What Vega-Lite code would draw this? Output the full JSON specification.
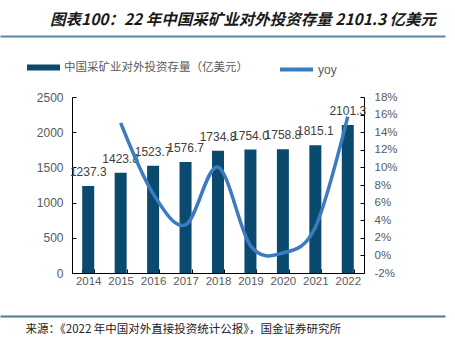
{
  "$schema": "https://vega.github.io/schema/vega-lite/v6.json",
  "background": "white",
  "padding": {"left": 25, "top": 12, "right": 10, "bottom": 5},
  "config": {"view": {"stroke": null}, "font": "Liberation Sans"},
  "width": 292,
  "height": 176,
  "title": {"text": "图表100：22 年中国采矿业对外投资存量 2101.3 亿美元", "anchor": "start", "frame": "bounds", "dx": 25, "font": "Noto Sans CJK SC", "fontSize": 15.5, "fontStyle": "italic", "fontWeight": "bold", "color": "#1a1a1a", "offset": 8},
  "layer": [
    {
      "data": {"values": [
        {"year": "2014", "stock": 1237.3, "yoy": null},
        {"year": "2015", "stock": 1423.8, "yoy": 0.1507},
        {"year": "2016", "stock": 1523.7, "yoy": 0.0702},
        {"year": "2017", "stock": 1576.7, "yoy": 0.0348},
        {"year": "2018", "stock": 1734.8, "yoy": 0.1003},
        {"year": "2019", "stock": 1754.0, "yoy": 0.0111},
        {"year": "2020", "stock": 1758.8, "yoy": 0.0027},
        {"year": "2021", "stock": 1815.1, "yoy": 0.0320},
        {"year": "2022", "stock": 2101.3, "yoy": 0.1577}
      ]},
      "encoding": {
        "x": {
          "field": "year", "type": "ordinal",
          "scale": {"paddingInner": 0.63, "paddingOuter": 0.315},
          "axis": {"title": null, "labelAngle": 0, "tickBand": "extent", "tickSize": -4, "domainColor": "#000", "tickColor": "#000", "labelPadding": 6, "labelFontSize": 11.5, "labelColor": "#595959", "labelFont": "Liberation Sans"}
        }
      },
      "layer": [
        {
          "encoding": {
            "y": {
              "field": "stock", "type": "quantitative",
              "scale": {"domain": [0, 2500]},
              "axis": {"values": [0, 500, 1000, 1500, 2000, 2500], "format": "d", "grid": false, "domainColor": "#000", "tickColor": "#000", "tickSize": -4, "labelPadding": 13, "labelFontSize": 12, "labelColor": "#595959", "labelFont": "Liberation Sans", "title": null}
            }
          },
          "layer": [
            {
              "mark": {"type": "bar", "size": 12},
              "encoding": {
                "fill": {
                  "datum": "中国采矿业对外投资存量（亿美元）", "type": "nominal",
                  "scale": {"range": ["#0b4a6f"]},
                  "legend": {"orient": "none", "legendX": -45, "legendY": -46, "direction": "horizontal", "title": null, "symbolType": "M-1,-0.18L1,-0.18L1,0.18L-1,0.18Z", "symbolSize": 1089, "symbolStrokeWidth": 0, "labelFont": "Noto Sans CJK SC", "labelFontSize": 11.5, "labelLimit": 300, "labelColor": "#595959", "labelOffset": 4}
                }
              }
            },
            {
              "mark": {"type": "text", "baseline": "middle", "dy": -14, "fontSize": 12, "color": "#404040", "font": "Liberation Sans"},
              "encoding": {"text": {"field": "stock", "type": "quantitative", "format": ".1f"}}
            }
          ]
        },
        {
          "transform": [{"filter": "datum.yoy != null"}],
          "mark": {"type": "line", "interpolate": "cardinal", "strokeWidth": 3.5},
          "encoding": {
            "y": {
              "field": "yoy", "type": "quantitative",
              "scale": {"domain": [-0.02, 0.18]},
              "axis": {"orient": "right", "values": [-0.02, 0, 0.02, 0.04, 0.06, 0.08, 0.1, 0.12, 0.14, 0.16, 0.18], "format": ".0%", "labelExpr": "replace(datum.label, '\u2212', '-')", "grid": false, "domainColor": "#000", "tickColor": "#000", "tickSize": -4, "labelPadding": 14, "labelFontSize": 11.5, "labelColor": "#595959", "labelFont": "Liberation Sans", "title": null}
            },
            "stroke": {
              "datum": "yoy", "type": "nominal",
              "scale": {"range": ["#3b7bc0"]},
              "legend": {"orient": "none", "legendX": 206, "legendY": -46, "direction": "horizontal", "title": null, "symbolType": "stroke", "symbolSize": 1089, "symbolStrokeWidth": 4, "labelFont": "Liberation Sans", "labelFontSize": 12, "labelColor": "#595959", "labelOffset": 3}
            }
          }
        }
      ],
      "resolve": {"scale": {"y": "independent", "fill": "independent", "stroke": "independent"}}
    },
    {
      "data": {"values": []},
      "mark": "rule",
      "encoding": {
        "x": {
          "field": "top", "type": "quantitative",
          "scale": {"domain": [0, 1], "range": [-72, 373]},
          "axis": {"orient": "top", "offset": 61, "domainColor": "#5588a3", "domainWidth": 2, "ticks": false, "labels": false, "grid": false, "title": null}
        }
      }
    },
    {
      "data": {"values": []},
      "mark": "rule",
      "encoding": {
        "x": {
          "field": "bottom", "type": "quantitative",
          "scale": {"domain": [0, 1], "range": [-72, 373]},
          "axis": {"orient": "bottom", "offset": 43, "domainColor": "#4a7a95", "domainWidth": 2, "ticks": false, "labels": false, "grid": false, "title": "来源：《2022 年中国对外直接投资统计公报》，国金证券研究所", "titleAnchor": "start", "titleX": -47, "titleAlign": "left", "titleBaseline": "top", "titlePadding": 7, "titleFont": "Noto Sans CJK SC", "titleFontSize": 11.5, "titleFontWeight": "normal", "titleColor": "#222222"}
        }
      }
    }
  ],
  "resolve": {"scale": {"x": "independent"}}
}
